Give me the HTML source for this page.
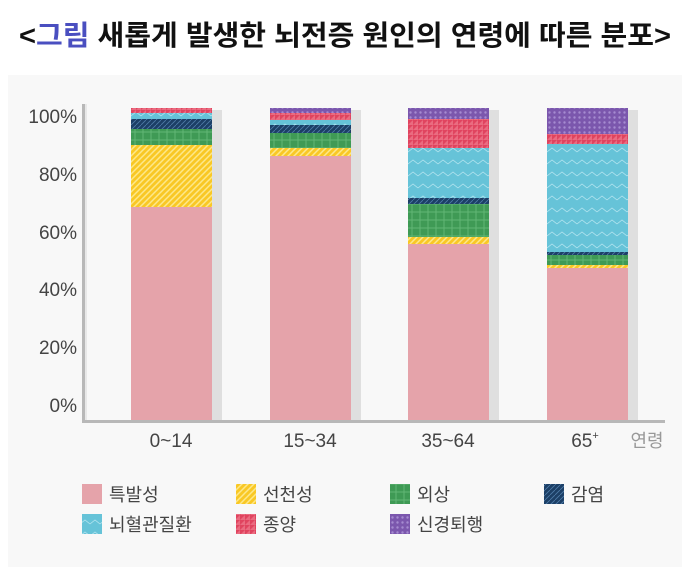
<!DOCTYPE html>
<html><head><meta charset="utf-8"><style>
body{margin:0;background:#fff;width:690px;height:577px;overflow:hidden;font-family:"Liberation Sans","Noto Sans CJK KR",sans-serif}
</style></head><body>
<svg width="690" height="577" xmlns="http://www.w3.org/2000/svg" font-family="'Liberation Sans','Noto Sans CJK KR',sans-serif">
<defs>
<pattern id="pY" width="6" height="6" patternUnits="userSpaceOnUse"><rect width="6" height="6" fill="#f9c825"/><path d="M-1,1 L1,-1 M0,6 L6,0 M5,7 L7,5" stroke="#fde88a" stroke-width="1.5"/></pattern>
<pattern id="pG" width="8" height="8" patternUnits="userSpaceOnUse"><rect width="8" height="8" fill="#3f9a55"/><path d="M0,4H8M4,0V8" stroke="#62b675" stroke-width="1"/></pattern>
<pattern id="pN" width="5" height="5" patternUnits="userSpaceOnUse"><rect width="5" height="5" fill="#1c3f66"/><path d="M0,5L5,0" stroke="#4f7ba8" stroke-width="0.8"/></pattern>
<pattern id="pC" width="10" height="12" patternUnits="userSpaceOnUse"><rect width="10" height="12" fill="#66c3d8"/><path d="M0,8L5,4L10,8" stroke="#b5e5f0" stroke-width="0.8" fill="none"/></pattern>
<pattern id="pR" width="5" height="5" patternUnits="userSpaceOnUse"><rect width="5" height="5" fill="#e0445f"/><path d="M0,5L5,0V5Z" fill="#ea6b80"/></pattern>
<pattern id="pP" width="5" height="5" patternUnits="userSpaceOnUse"><rect width="5" height="5" fill="#7b57ad"/><circle cx="2.5" cy="2.5" r="1.2" fill="#a58bd0"/></pattern>
</defs>
<text x="345" y="45" text-anchor="middle" font-size="28" font-weight="bold" fill="#111" textLength="652" lengthAdjust="spacingAndGlyphs">&lt;<tspan fill="#4a4fc0">그림</tspan> 새롭게 발생한 뇌전증 원인의 연령에 따른 분포&gt;</text>
<rect x="8" y="75" width="674" height="492" fill="#f8f8f8"/>
<g font-size="19" fill="#444" text-anchor="end">
<text x="77" y="123">100%</text><text x="77" y="181">80%</text><text x="77" y="239">60%</text><text x="77" y="296">40%</text><text x="77" y="354">20%</text><text x="77" y="412">0%</text>
</g>
<rect x="82" y="104" width="3" height="318" fill="#b8b8b8"/><rect x="85" y="104" width="2" height="318" fill="#e8e8e8"/>
<g fill="#dfdfdf"><rect x="212" y="110" width="10" height="311"/><rect x="351" y="110" width="10" height="311"/><rect x="489" y="110" width="10" height="311"/><rect x="628" y="110" width="10" height="311"/></g>
<g transform="translate(131,0)">
<rect y="108" width="81" height="5" fill="url(#pR)"/><rect y="113" width="81" height="6" fill="url(#pC)"/><rect y="119" width="81" height="10" fill="url(#pN)"/><rect y="129" width="81" height="16" fill="url(#pG)"/><rect y="145" width="81" height="62" fill="url(#pY)"/><rect y="207" width="81" height="214" fill="#e5a3aa"/></g>
<g transform="translate(270,0)">
<rect y="108" width="81" height="5" fill="url(#pP)"/><rect y="113" width="81" height="7" fill="url(#pR)"/><rect y="120" width="81" height="5" fill="url(#pC)"/><rect y="125" width="81" height="8" fill="url(#pN)"/><rect y="133" width="81" height="15" fill="url(#pG)"/><rect y="148" width="81" height="8" fill="url(#pY)"/><rect y="156" width="81" height="265" fill="#e5a3aa"/></g>
<g transform="translate(408,0)">
<rect y="108" width="81" height="11" fill="url(#pP)"/><rect y="119" width="81" height="29" fill="url(#pR)"/><rect y="148" width="81" height="50" fill="url(#pC)"/><rect y="198" width="81" height="6" fill="url(#pN)"/><rect y="204" width="81" height="33" fill="url(#pG)"/><rect y="237" width="81" height="7" fill="url(#pY)"/><rect y="244" width="81" height="177" fill="#e5a3aa"/></g>
<g transform="translate(547,0)">
<rect y="108" width="81" height="26" fill="url(#pP)"/><rect y="134" width="81" height="10" fill="url(#pR)"/><rect y="144" width="81" height="108" fill="url(#pC)"/><rect y="252" width="81" height="3" fill="url(#pN)"/><rect y="255" width="81" height="10" fill="url(#pG)"/><rect y="265" width="81" height="3" fill="url(#pY)"/><rect y="268" width="81" height="153" fill="#e5a3aa"/></g>
<rect x="82" y="420" width="583" height="3" fill="#b8b8b8"/>
<g font-size="19" fill="#444" text-anchor="middle">
<text x="171" y="447">0~14</text><text x="310" y="447">15~34</text><text x="448" y="447">35~64</text><text x="585" y="447">65<tspan font-size="11" dy="-8">+</tspan></text>
</g>
<text x="647" y="447" font-size="18" fill="#999" text-anchor="middle">연령</text>
<g font-size="18" fill="#444">
<rect x="82" y="484" width="20" height="20" fill="#e5a3aa"/><text x="109" y="501">특발성</text>
<rect x="236" y="484" width="20" height="20" fill="url(#pY)"/><text x="263" y="501">선천성</text>
<rect x="390" y="484" width="20" height="20" fill="url(#pG)"/><text x="417" y="501">외상</text>
<rect x="544" y="484" width="20" height="20" fill="url(#pN)"/><text x="571" y="501">감염</text>
<rect x="82" y="514" width="20" height="20" fill="url(#pC)"/><text x="109" y="531">뇌혈관질환</text>
<rect x="236" y="514" width="20" height="20" fill="url(#pR)"/><text x="263" y="531">종양</text>
<rect x="390" y="514" width="20" height="20" fill="url(#pP)"/><text x="417" y="531">신경퇴행</text>
</g>
</svg>
</body></html>
